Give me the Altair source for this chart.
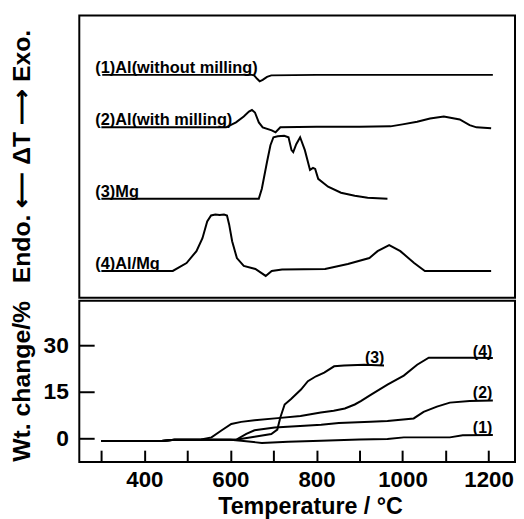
import altair as alt
import pandas as pd

FONT = "Liberation Sans"

# ---------------- DTA (upper panel), arbitrary ΔT units ----------------
dta1_T = [302, 600, 650, 655, 662, 668, 675, 685, 695, 800, 1000, 1210]
dta1_v = [225, 225, 225, 224.5, 221, 218.5, 220, 223, 224.5, 225, 225, 225]

dta2_T = [300, 590, 613, 631, 643, 650, 657, 666, 675, 696, 705, 716, 800, 900, 972,
          1000, 1034, 1064, 1096, 1133, 1156, 1172, 1206]
dta2_v = [172, 172, 177, 183, 188, 189.5, 187, 177, 172, 169, 167, 172, 172.5, 172.5, 173,
          175, 177.7, 181, 183, 180, 174.3, 172, 171]

dta3_T = [300, 666, 673, 685, 693, 700, 710, 725, 735, 742, 746, 753, 762, 773, 785,
          792, 797, 804, 827, 857, 889, 919, 965]
dta3_v = [100, 100, 110, 137, 154, 162, 163, 163.5, 162, 149, 147, 155, 162, 149, 129,
          131, 130, 120, 112, 106, 103, 101, 100]

dta4_T = [300, 466, 498, 521, 535, 546, 555, 565, 575, 585, 592, 597, 604, 615, 631,
          658, 682, 696, 720, 820, 873, 923, 942, 969, 995, 1027, 1052, 1206]
dta4_v = [27, 27, 35, 47, 60, 77, 83, 84, 83.5, 84, 83, 74, 57, 40, 32,
          29, 22, 27, 28.5, 29, 34, 40, 47, 53, 47, 35, 27, 27]

dta_labels = ["(1)Al(without milling)", "(2)Al(with milling)", "(3)Mg", "(4)Al/Mg"]
dta_label_T = [286, 286, 286, 286]
dta_label_v = [227, 174, 102, 29]

# ---------------- TG (lower panel), Wt. change / % ----------------
tg1_T = [300, 440, 470, 600, 625, 673, 734, 811, 900, 965, 1003, 1110, 1140, 1210]
tg1_v = [-0.9, -0.9, -0.5, -0.5, -0.8, -1.5, -1.1, -0.8, -0.4, -0.2, 0.3, 0.3, 1.0, 1.05]

tg2_T = [300, 440, 470, 600, 614, 637, 656, 703, 811, 852, 926, 965, 1026, 1049, 1080,
         1110, 1156, 1210]
tg2_v = [-0.9, -0.9, -0.5, -0.5, -0.4, 1.4, 2.6, 3.5, 4.4, 4.9, 5.3, 5.6, 6.4, 8.5, 10.2,
         11.5, 12.0, 12.2]

tg3_T = [300, 440, 470, 616, 656, 695, 709, 716, 726, 741, 764, 780, 799, 818, 841,
         864, 911, 957]
tg3_v = [-0.9, -0.9, -0.5, -0.4, 0.5, 1.4, 2.8, 6.7, 10.9, 12.7, 15.7, 18.4, 20.0, 21.2, 23.2,
         23.5, 23.7, 23.5]

tg4_T = [300, 440, 470, 532, 556, 579, 602, 625, 656, 710, 763, 810, 840, 866, 889,
         903, 927, 965, 1003, 1034, 1061, 1156, 1210]
tg4_v = [-0.9, -0.9, -0.5, -0.4, 0.3, 2.5, 4.6, 5.3, 5.8, 6.5, 7.2, 8.3, 8.9, 9.6, 10.9,
         12.0, 14.1, 17.3, 20.2, 23.7, 26.0, 26.0, 25.9]

tg_labels = ["(1)", "(2)", "(3)", "(4)"]
tg_label_T = [1186, 1186, 935, 1186]
tg_label_v = [1.8, 13.0, 24.2, 26.3]

x_ticks = [300, 400, 500, 600, 700, 800, 900, 1000, 1100, 1200]
y_ticks = [0, 15, 30]
x_domain = [248.7, 1261.5]
tg_domain = [-7.66, 44.37]
dta_domain = [0, 285]


def long(series):
    rows = []
    for name, (ts, vs) in series.items():
        for t, v in zip(ts, vs):
            rows.append({"s": name, "T": t, "v": v})
    return pd.DataFrame(rows)


dta_df = long({"1": (dta1_T, dta1_v), "2": (dta2_T, dta2_v),
               "3": (dta3_T, dta3_v), "4": (dta4_T, dta4_v)})
tg_df = long({"1": (tg1_T, tg1_v), "2": (tg2_T, tg2_v),
              "3": (tg3_T, tg3_v), "4": (tg4_T, tg4_v)})
dta_lab_df = pd.DataFrame({"t": dta_labels, "T": dta_label_T, "v": dta_label_v})
tg_lab_df = pd.DataFrame({"t": tg_labels, "T": tg_label_T, "v": tg_label_v})

xs = alt.Scale(domain=x_domain, nice=False, zero=False)

top_lines = alt.Chart(dta_df).mark_line(color="black", strokeWidth=2).encode(
    x=alt.X("T:Q", scale=xs, axis=None),
    y=alt.Y("v:Q", scale=alt.Scale(domain=dta_domain, nice=False, zero=False),
            axis=alt.Axis(title="Endo. ⟵ ΔT ⟶ Exo.", ticks=False, labels=False,
                          domain=False, grid=False, titleFont=FONT, titleFontSize=25,
                          titleFontWeight="bold", titleColor="black",
                          titleX=-50, titleY=142, titleBaseline="alphabetic")),
    detail="s:N",
    order="T:Q",
)
top_text = alt.Chart(dta_lab_df).mark_text(
    align="left", baseline="alphabetic", font=FONT, fontSize=16.5,
    fontWeight="bold", color="black").encode(
    x=alt.X("T:Q", scale=xs), y=alt.Y("v:Q"), text="t:N")
top = alt.layer(top_lines, top_text).properties(width=440, height=285)

bot_lines = alt.Chart(tg_df).mark_line(color="black", strokeWidth=2).encode(
    x=alt.X("T:Q", scale=xs,
            axis=alt.Axis(title="Temperature / °C", values=x_ticks, format="d",
                          labelExpr="datum.value % 200 == 0 ? datum.label : ''",
                          offset=-12, tickSize=12, tickWidth=2, tickColor="black",
                          domain=False, grid=False, labelPadding=7,
                          labelFont=FONT, labelFontSize=22.5, labelFontWeight="bold",
                          labelColor="black", titleFont=FONT, titleFontSize=23.5,
                          titleFontWeight="bold", titleColor="black",
                          titleX=233, titleY=64, titleBaseline="alphabetic")),
    y=alt.Y("v:Q", scale=alt.Scale(domain=tg_domain, nice=False, zero=False),
            axis=alt.Axis(title="Wt. change/%", values=y_ticks, format="d",
                          offset=-15, tickSize=15, tickWidth=2, tickColor="black",
                          domain=False, grid=False, labelPadding=11,
                          labelFont=FONT, labelFontSize=23, labelFontWeight="bold",
                          labelColor="black", titleFont=FONT, titleFontSize=25,
                          titleFontWeight="bold", titleColor="black",
                          titleX=-65, titleY=81, titleBaseline="alphabetic")),
    detail="s:N",
    order="T:Q",
)
bot_text = alt.Chart(tg_lab_df).mark_text(
    align="center", baseline="alphabetic", font=FONT, fontSize=16,
    fontWeight="bold", color="black").encode(
    x=alt.X("T:Q", scale=xs), y=alt.Y("v:Q"), text="t:N")
bottom = alt.layer(bot_lines, bot_text).properties(width=440, height=163)

chart = alt.vconcat(top, bottom, spacing=0).properties(
    padding={"left": 0, "top": 4, "right": 0, "bottom": 0}
).configure_view(stroke="black", strokeWidth=2).configure_concat(spacing=0)

chart.save("out.html", embed_options={"renderer": "svg", "actions": False})
